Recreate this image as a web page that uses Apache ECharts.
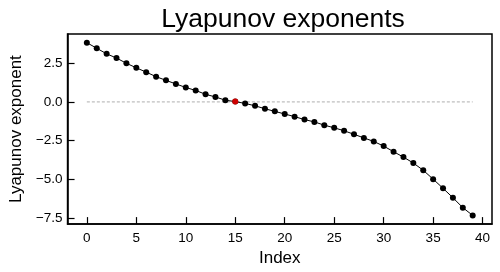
<!DOCTYPE html>
<html>
<head>
<meta charset="utf-8">
<script src="https://cdn.jsdelivr.net/npm/echarts@6/dist/echarts.min.js"></script>
<style>
  html, body { margin: 0; padding: 0; background: #fff; }
  #chart { width: 500px; height: 272px; }
</style>
</head>
<body>
<div id="chart"></div>
<script>
// values
const indices = [...Array(40).keys()]
const exponents = [
    3.82, 3.46, 3.10, 2.83, 2.49, 2.20, 1.92, 1.63, 1.39, 1.16,
    0.93, 0.74, 0.49, 0.32, 0.11, 0.02, -0.10, -0.25, -0.44, -0.61,
    -0.78, -0.95, -1.14, -1.29, -1.50, -1.67, -1.86, -2.09, -2.32, -2.55,
    -2.85, -3.21, -3.56, -3.94, -4.41, -4.98, -5.57, -6.18, -6.82, -7.32
]
const highlightIndex = 15
const xTicks = [0, 5, 10, 15, 20, 25, 30, 35, 40]
const yTicks = [-7.5, -5.0, -2.5, 0.0, 2.5]

const font = 'Liberation Sans, Arial, Helvetica, sans-serif'

let chart = echarts.init(document.getElementById('chart'), null, { renderer: 'canvas' })

let option = {
    animation: false,
    backgroundColor: '#fff',
    title: {
        text: 'Lyapunov exponents',
        left: 278,
        textAlign: 'center',
        top: 1,
        textStyle: { fontFamily: font, fontSize: 26.5, fontWeight: 'normal', color: '#000' }
    },
    grid: {
        left: 63, right: 8, top: 34, bottom: 45,
        show: true,
        borderColor: '#000',
        borderWidth: 1.5
    },
    xAxis: {
        type: 'value',
        min: -1.95,
        max: 40.95,
        name: 'Index',
        nameLocation: 'middle',
        nameGap: 23,
        nameTextStyle: { fontFamily: font, fontSize: 17, color: '#000' },
        splitLine: { show: false },
        axisLine: { show: true, onZero: false, lineStyle: { color: '#000', width: 1.5 } },
        axisTick: {
            show: true, inside: true, length: 7,
            customValues: xTicks,
            lineStyle: { color: '#000', width: 1.2 }
        },
        axisLabel: {
            show: true, margin: 7,
            customValues: xTicks,
            fontFamily: font, fontSize: 13.5, color: '#000'
        }
    },
    yAxis: {
        type: 'value',
        min: -7.88,
        max: 4.38,
        name: 'Lyapunov exponent',
        nameLocation: 'middle',
        nameGap: 41,
        nameTextStyle: { fontFamily: font, fontSize: 17, color: '#000' },
        splitLine: { show: false },
        axisLine: { show: true, onZero: false, lineStyle: { color: '#000', width: 1.5 } },
        axisTick: {
            show: true, inside: true, length: 7,
            customValues: yTicks,
            lineStyle: { color: '#000', width: 1.2 }
        },
        axisLabel: {
            show: true, margin: 5,
            customValues: yTicks,
            fontFamily: font, fontSize: 13.5, color: '#000',
            formatter: v => v.toFixed(1).replace('-', '\u2212')
        }
    },
    series: [
        {
            // zero reference line
            type: 'line',
            data: [[indices[0], 0], [indices[indices.length - 1], 0]],
            symbol: 'none',
            lineStyle: { color: '#999', width: 0.8, type: [3, 2] },
            silent: true
        },
        {
            type: 'line',
            data: indices.map(i => [i, exponents[i]]),
            symbol: 'circle',
            symbolSize: 6,
            itemStyle: { color: '#000' },
            lineStyle: { color: '#000', width: 1 }
        },
        {
            type: 'scatter',
            data: [[highlightIndex, exponents[highlightIndex]]],
            symbolSize: 6,
            itemStyle: { color: '#ff0000' },
            z: 5
        }
    ]
}
chart.setOption(option)
</script>
</body>
</html>
